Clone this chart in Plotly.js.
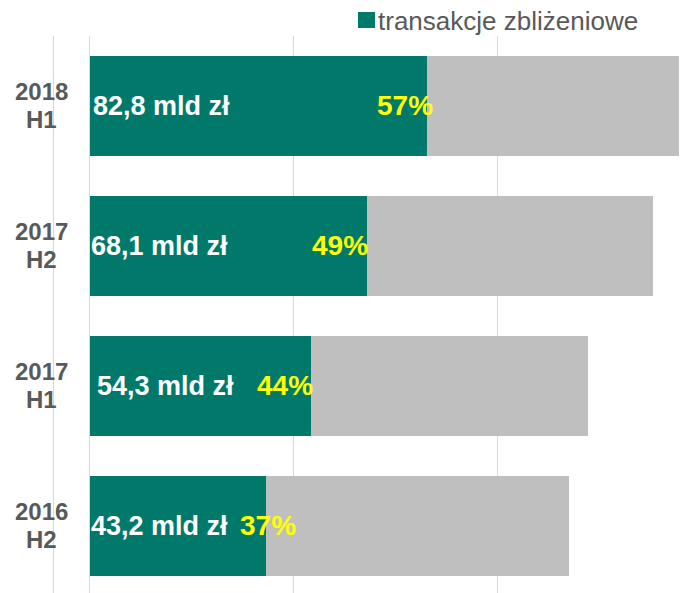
<!DOCTYPE html>
<html>
<head>
<meta charset="utf-8">
<script src="https://cdn.plot.ly/plotly-3.0.1.min.js"></script>
<style>
  html, body { margin: 0; padding: 0; background: #ffffff; }
  #chart { width: 691px; height: 593px; }
</style>
</head>
<body>
<div id="chart"></div>
<script>
// ---- data (bottom to top) ----
const categories = ['2016 H2', '2017 H1', '2017 H2', '2018 H1'];
const yearLabels = ['2016', '2017', '2017', '2018'];
const halfLabels = ['H2', 'H1', 'H2', 'H1'];
const contactless = [43.2, 54.3, 68.1, 82.8];      // mld zł, transakcje zbliżeniowe
const otherPart = [74.3, 67.9, 70.0, 61.8];        // remaining part of bar (grey)
const shareLabels = ['37%', '44%', '49%', '57%'];
const legendName = 'transakcje zbliżeniowe';

// ---- style / placement ----
const GREEN = '#00796B';
const GREY = '#BFBFBF';
const GRID = '#D9D9D9';
const FONT = 'Liberation Sans, Arial, sans-serif';
const W = 691, H = 593;
const M = {l: 54, r: 0, t: 36, b: 0};
const PW = W - M.l - M.r, PH = H - M.t - M.b;
const px2x = p => (p - M.l) / PW;
const px2y = p => 1 - (p - M.t) / PH;
const valueShift = [0, 6, 0, 2];
const shareShift = [30, 2, 1, 6];

const traces = [
  {
    type: 'bar', orientation: 'h', name: legendName,
    y: categories, x: contactless,
    marker: {color: GREEN}, hoverinfo: 'skip', showlegend: false
  },
  {
    type: 'bar', orientation: 'h', name: 'pozostałe',
    y: categories, x: otherPart,
    marker: {color: GREY}, hoverinfo: 'skip', showlegend: false
  }
];

const annotations = [];
categories.forEach((c, i) => {
  annotations.push({
    xref: 'paper', yref: 'y', x: px2x(41), y: c, yshift: 14,
    text: yearLabels[i], showarrow: false, xanchor: 'center', yanchor: 'middle',
    font: {family: FONT, size: 24, color: '#595959', weight: 'bold'}
  });
  annotations.push({
    xref: 'paper', yref: 'y', x: px2x(41), y: c, yshift: -14,
    text: halfLabels[i], showarrow: false, xanchor: 'center', yanchor: 'middle',
    font: {family: FONT, size: 24, color: '#595959', weight: 'bold'}
  });
  annotations.push({
    xref: 'x', yref: 'y', x: 0, y: c, xshift: valueShift[i] - 1, yshift: 0,
    text: contactless[i].toFixed(1).replace('.', ',') + ' mld zł',
    showarrow: false, xanchor: 'left', yanchor: 'middle',
    font: {family: FONT, size: 27, color: '#FFFFFF', weight: 'bold'}
  });
  annotations.push({
    xref: 'x', yref: 'y', x: contactless[i], y: c, xshift: shareShift[i] + 2, yshift: 0,
    text: shareLabels[i],
    showarrow: false, xanchor: 'right', yanchor: 'middle',
    font: {family: FONT, size: 28, color: '#FFFF00', weight: 'bold'}
  });
});
// legend text
annotations.push({
  xref: 'paper', yref: 'paper', x: px2x(376), y: px2y(21),
  text: legendName, showarrow: false, xanchor: 'left', yanchor: 'middle',
  font: {family: FONT, size: 26, color: '#595959'}
});

const layout = {
  width: W, height: H,
  margin: M,
  paper_bgcolor: '#ffffff', plot_bgcolor: '#ffffff',
  barmode: 'stack', bargap: 0.286,
  showlegend: false,
  xaxis: {
    range: [-35.5 / 4.08, (W - 89.5) / 4.08],
    tickvals: [0, 50, 100, 150],
    showticklabels: false, ticks: '',
    showgrid: true, gridcolor: GRID, gridwidth: 1.5,
    zeroline: true, zerolinecolor: GRID, zerolinewidth: 1.5,
    showline: false, fixedrange: true
  },
  yaxis: {
    type: 'category', categoryorder: 'array', categoryarray: categories,
    range: [-0.479, 3.5],
    showticklabels: false, ticks: '', showgrid: false, zeroline: false,
    showline: true, linecolor: GRID, linewidth: 1.5, fixedrange: true
  },
  shapes: [
    {type: 'rect', xref: 'paper', yref: 'paper',
     x0: px2x(358), x1: px2x(375), y0: px2y(28), y1: px2y(12),
     fillcolor: GREEN, line: {width: 0}}
  ],
  annotations: annotations
};

Plotly.newPlot('chart', traces, layout, {displayModeBar: false, staticPlot: true});
</script>
</body>
</html>
